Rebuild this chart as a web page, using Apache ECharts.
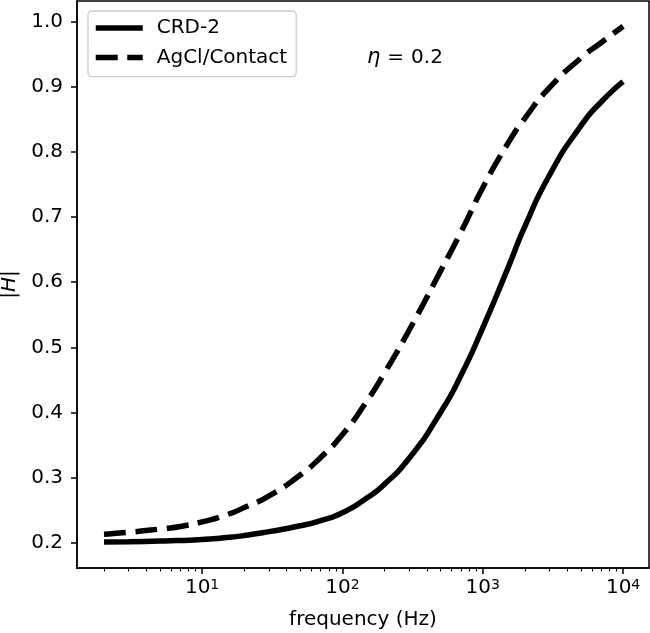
<!DOCTYPE html>
<html><head><meta charset="utf-8">
<script src="https://cdn.jsdelivr.net/npm/echarts@6/dist/echarts.min.js"></script>
<style>html,body{margin:0;padding:0;background:#fff}#c{width:650px;height:633px}</style>
</head><body><div id="c"></div>
<script>
// ---- data ----
const frequencies = [2, 3, 5, 7, 10, 15, 20, 30, 50, 70, 100, 150, 200, 300, 500, 700, 1000, 1500, 2000, 3000, 5000, 7000, 10000];
const crd2 = [0.201, 0.2015, 0.2025, 0.2035, 0.205, 0.208, 0.211, 0.217, 0.226, 0.234, 0.246, 0.269, 0.290, 0.330, 0.400, 0.457, 0.530, 0.620, 0.686, 0.765, 0.840, 0.877, 0.908];
const agcl = [0.213, 0.216, 0.221, 0.225, 0.232, 0.243, 0.254, 0.272, 0.304, 0.331, 0.366, 0.418, 0.461, 0.527, 0.617, 0.677, 0.745, 0.812, 0.852, 0.899, 0.944, 0.968, 0.993];
const seriesNames = ['CRD-2', 'AgCl/Contact'];
const xMajorTicks = [10, 100, 1000, 10000];
const xMinorTicks = [2, 3, 4, 5, 6, 7, 8, 9, 20, 30, 40, 50, 60, 70, 80, 90, 200, 300, 400, 500, 600, 700, 800, 900, 2000, 3000, 4000, 5000, 6000, 7000, 8000, 9000];
const yTicks = [0.2, 0.3, 0.4, 0.5, 0.6, 0.7, 0.8, 0.9, 1.0];

const FONT = 'DejaVu Sans';
const chart = echarts.init(document.getElementById('c'), null, {renderer: 'canvas'});
const pairs = (xs, ys) => xs.map((x, i) => [x, ys[i]]);
const xMin = 1.284, xMax = 15300, yMin = 0.1612, yMax = 1.0317;

chart.setOption({
  animation: false,
  textStyle: {fontFamily: FONT, color: '#000'},
  grid: {left: 77, right: 1, top: 1, bottom: 65, containLabel: false, outerBoundsMode: 'none',
    show: true, borderColor: '#000', borderWidth: 1.5, backgroundColor: 'transparent'},
  title: {
    text: '{i|η}{e|=}0.2',
    left: 362, top: 42,
    textStyle: {fontSize: 20, fontWeight: 'normal', color: '#000', fontFamily: FONT,
      rich: {i: {fontSize: 21, fontStyle: 'italic', fontFamily: FONT, color: '#000'},
             e: {fontSize: 20, fontFamily: FONT, color: '#000', padding: [0, 7, 0, 7]}}}
  },
  legend: {
    data: seriesNames,
    orient: 'vertical', left: 88, top: 11,
    itemWidth: 47, itemHeight: 14, itemGap: 9.6,
    padding: [7, 9, 9, 5],
    backgroundColor: 'rgba(255,255,255,0.8)', borderColor: '#cccccc', borderWidth: 1.3, borderRadius: 4,
    itemStyle: {opacity: 0},
    lineStyle: {width: 5.5, type: 'inherit', color: '#000', cap: 'butt'},
    textStyle: {fontSize: 20, color: '#000', fontFamily: FONT, padding: [0, 0, 0, 9]}
  },
  xAxis: [{
    type: 'log', logBase: 10, min: xMin, max: xMax, position: 'bottom',
    axisLine: {show: true, lineStyle: {color: '#000', width: 1.5}},
    axisTick: {show: true, customValues: xMajorTicks, length: 6, lineStyle: {color: '#000', width: 1.5}},
    axisLabel: {
      customValues: xMajorTicks, margin: 10, color: '#000',
      formatter: v => '{b|10}{s|' + Math.round(Math.log10(v)) + '}',
      rich: {b: {fontSize: 20, fontFamily: FONT, color: '#000'}, s: {fontSize: 14, fontFamily: FONT, color: '#000', verticalAlign: 'top'}}
    },
    splitLine: {show: false}, minorTick: {show: false},
    name: 'frequency (Hz)', nameLocation: 'middle', nameGap: 42,
    nameTextStyle: {fontSize: 20, color: '#000', fontFamily: FONT}
  }, {
    type: 'log', logBase: 10, min: xMin, max: xMax, position: 'bottom',
    axisLine: {show: false},
    axisTick: {show: true, customValues: xMinorTicks, length: 3.5, lineStyle: {color: '#000', width: 1.1}},
    axisLabel: {show: false}, splitLine: {show: false}
  }],
  yAxis: {
    type: 'value', min: yMin, max: yMax,
    axisLine: {show: true, lineStyle: {color: '#000', width: 1.5}},
    axisTick: {show: true, customValues: yTicks, length: 6, lineStyle: {color: '#000', width: 1.5}},
    axisLabel: {customValues: yTicks, margin: 14, fontSize: 20, color: '#000', fontFamily: FONT, formatter: v => v.toFixed(1)},
    splitLine: {show: false},
    name: '{n||}{i|H}{n||}', nameLocation: 'middle', nameGap: 57, nameRotate: 90,
    nameTextStyle: {fontSize: 20, color: '#000', fontFamily: FONT,
      rich: {n: {fontSize: 20, fontFamily: FONT, color: '#000'}, i: {fontSize: 20, fontStyle: 'italic', fontFamily: FONT, color: '#000'}}}
  },
  series: [{
    name: seriesNames[0], type: 'line', xAxisIndex: 0, data: pairs(frequencies, crd2),
    symbol: 'none', smooth: 0.6, color: '#000',
    lineStyle: {color: '#000', width: 5.5, type: 'solid', cap: 'butt'}
  }, {
    name: seriesNames[1], type: 'line', xAxisIndex: 0, data: pairs(frequencies, agcl),
    symbol: 'none', smooth: 0.6, color: '#000',
    lineStyle: {color: '#000', width: 5.5, type: [22, 9.5], cap: 'butt'}
  }]
});
</script></body></html>
